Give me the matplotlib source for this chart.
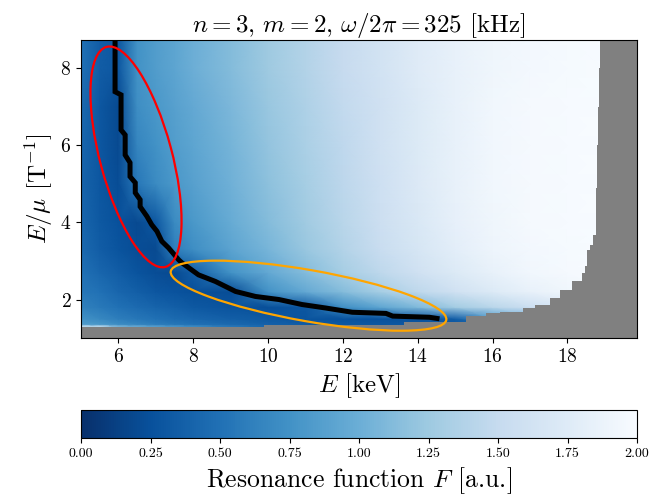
"""
Resonance function F over (E, E/mu) with the resonance line and two
highlighted regions. Saved to out.png.
"""

import numpy as np
import matplotlib
matplotlib.use("Agg")
import matplotlib.pyplot as plt
from matplotlib.patches import Ellipse
from matplotlib.ticker import FormatStrFormatter

plt.rcParams["font.family"] = "serif"
plt.rcParams["font.serif"] = ["cmr10"]
plt.rcParams["mathtext.fontset"] = "cm"
plt.rcParams["axes.formatter.use_mathtext"] = True
plt.rcParams["axes.unicode_minus"] = False

# grid nodes of the resonance function
E_nodes = [5.0, 5.5, 6.0, 6.5, 7.0, 7.5, 8.0, 9.0, 10.0, 11.0, 12.0,
           13.0, 14.0, 15.0, 16.0, 17.0, 18.0, 19.0, 19.9]
Emu_nodes = [1.0, 1.27, 1.36, 1.5, 1.8, 2.2, 2.7, 3.3, 4.0, 5.0, 6.0,
             7.0, 8.0, 8.8]
F_rows = [
    # 1.0
    [2.0, 2.0, 1.2, 1.1, 1.0, 0.9, 0.8, 0.6, 0.45, 0.4, 0.35, 0.32, 0.3, 0.3, 0.3, 0.3, 0.3, 0.3, 0.3],
    # 1.27
    [2.0, 2.0, 1.2, 1.1, 1.0, 0.9, 0.8, 0.6, 0.45, 0.4, 0.35, 0.32, 0.3, 0.3, 0.3, 0.3, 0.3, 0.3, 0.3],
    # 1.36
    [0.85, 0.8, 0.72, 0.66, 0.6, 0.55, 0.5, 0.44, 0.38, 0.34, 0.32, 0.3, 0.3, 0.3, 0.3, 0.5, 0.8, 1.0, 1.0],
    # 1.5
    [0.75, 0.68, 0.6, 0.55, 0.5, 0.46, 0.42, 0.36, 0.32, 0.28, 0.26, 0.25, 0.25, 0.35, 0.8, 1.0, 1.2, 1.4, 1.4],
    # 1.8
    [0.62, 0.56, 0.5, 0.45, 0.4, 0.36, 0.32, 0.27, 0.24, 0.3, 0.72, 0.92, 1.1, 1.28, 1.42, 1.55, 1.7, 1.8, 1.8],
    # 2.2
    [0.55, 0.5, 0.42, 0.36, 0.3, 0.27, 0.24, 0.22, 0.75, 0.95, 1.12, 1.3, 1.45, 1.6, 1.73, 1.85, 1.92, 1.97, 2.0],
    # 2.7
    [0.5, 0.42, 0.35, 0.28, 0.22, 0.2, 0.35, 0.75, 0.95, 1.12, 1.3, 1.45, 1.6, 1.73, 1.85, 1.93, 1.97, 2.0, 2.0],
    # 3.3
    [0.45, 0.35, 0.28, 0.22, 0.2, 0.6, 0.72, 0.9, 1.06, 1.22, 1.38, 1.53, 1.67, 1.8, 1.9, 1.96, 1.98, 2.0, 2.0],
    # 4.0
    [0.42, 0.32, 0.25, 0.2, 0.3, 0.7, 0.8, 0.97, 1.12, 1.27, 1.42, 1.57, 1.7, 1.83, 1.92, 1.97, 1.99, 2.0, 2.0],
    # 5.0
    [0.4, 0.3, 0.22, 0.55, 0.7, 0.8, 0.88, 1.02, 1.17, 1.3, 1.44, 1.58, 1.72, 1.85, 1.93, 1.97, 1.99, 2.0, 2.0],
    # 6.0
    [0.42, 0.3, 0.2, 0.65, 0.75, 0.85, 0.92, 1.05, 1.2, 1.33, 1.46, 1.6, 1.73, 1.85, 1.93, 1.97, 1.99, 2.0, 2.0],
    # 7.0
    [0.45, 0.3, 0.2, 0.72, 0.8, 0.88, 0.95, 1.08, 1.22, 1.35, 1.48, 1.6, 1.73, 1.85, 1.93, 1.97, 1.99, 2.0, 2.0],
    # 8.0
    [0.5, 0.35, 0.3, 0.75, 0.85, 0.92, 1.0, 1.12, 1.25, 1.38, 1.5, 1.62, 1.75, 1.85, 1.92, 1.96, 1.98, 2.0, 2.0],
    # 8.8
    [0.5, 0.35, 0.3, 0.75, 0.85, 0.92, 1.0, 1.12, 1.25, 1.38, 1.5, 1.62, 1.75, 1.85, 1.92, 1.96, 1.98, 2.0, 2.0],
]

# lower/right edge of the valid region (gray outside), rises at each E
edge_E = [5.0, 9.9, 13.64, 15.29, 15.83, 16.19, 16.81, 17.13, 17.53, 17.80,
          18.11, 18.38, 18.47, 18.51, 18.60, 18.68, 18.76, 18.79, 18.82,
          18.85, 18.87, 19.9]
edge_Emu = [1.28, 1.34, 1.42, 1.56, 1.65, 1.68, 1.78, 1.87, 2.04, 2.26,
            2.47, 2.69, 2.86, 3.29, 3.42, 3.68, 4.90, 6.0, 7.0,
            8.0, 8.8, 8.8]

# resonance line vertices
res_E = [5.91, 5.91, 6.07, 6.07, 6.18, 6.18, 6.31, 6.31, 6.45, 6.45, 6.58,
         6.58, 6.76, 6.89, 7.03, 7.16, 7.34, 7.61, 7.70, 8.14, 8.59, 9.13,
         9.66, 10.29, 10.91, 11.54, 12.25, 13.15, 13.33, 14.31, 14.58]
res_Emu = [8.8, 7.39, 7.31, 6.40, 6.27, 5.75, 5.55, 5.19, 5.03, 4.77, 4.59,
           4.41, 4.16, 3.94, 3.77, 3.51, 3.34, 3.03, 2.95, 2.64, 2.47, 2.21,
           2.08, 2.00, 1.87, 1.78, 1.67, 1.64, 1.57, 1.54, 1.50]

# highlighted regions: (center E, center E/mu), width, height, angle, colour
regions = [
    ((6.47, 5.70), 5.92, 1.92, -74.5, "red"),
    ((11.08, 2.10), 7.47, 1.33, -9.7, "orange"),
]

fig = plt.figure(figsize=(6.65, 4.95), dpi=100)
ax = fig.add_axes([0.1218, 0.317, 0.8362, 0.602])
cax = fig.add_axes([0.1218, 0.115, 0.8362, 0.057])

X, Y = np.meshgrid(E_nodes, Emu_nodes)
F = np.array(F_rows)
mesh = ax.pcolormesh(X, Y, F, cmap="Blues_r", vmin=0, vmax=2,
                     shading="gouraud", rasterized=True)

ax.fill_between(edge_E, 0, edge_Emu, step="post", color="gray",
                lw=0, zorder=2)

ax.plot(res_E, res_Emu, color="black", lw=3.6, solid_joinstyle="miter",
        solid_capstyle="butt", zorder=3)

for (c, w, h, ang, col) in regions:
    ax.add_patch(Ellipse(c, w, h, angle=ang, fill=False, ec=col, lw=1.6,
                         zorder=4))

ax.set_xlim(5.0, 19.86)
ax.set_ylim(1.0, 8.73)
ax.set_xticks([6, 8, 10, 12, 14, 16, 18])
ax.set_yticks([2, 4, 6, 8])
ax.tick_params(labelsize=14)
ax.set_xlabel(r"$E$ [keV]", fontsize=18)
ax.set_ylabel(r"$E/\mu$ [T$^{-1}$]", fontsize=18)
ax.set_title(r"$n=3$, $m=2$, $\omega/2\pi=325$ [kHz]", fontsize=18)

cb = fig.colorbar(mesh, cax=cax, orientation="horizontal")
cb.set_ticks(np.arange(0, 2.01, 0.25))
cb.ax.xaxis.set_major_formatter(FormatStrFormatter("%.2f"))
cb.ax.tick_params(labelsize=10)
cb.set_label(r"Resonance function $F$ [a.u.]", fontsize=18.5)

fig.savefig("out.png", dpi=100)
